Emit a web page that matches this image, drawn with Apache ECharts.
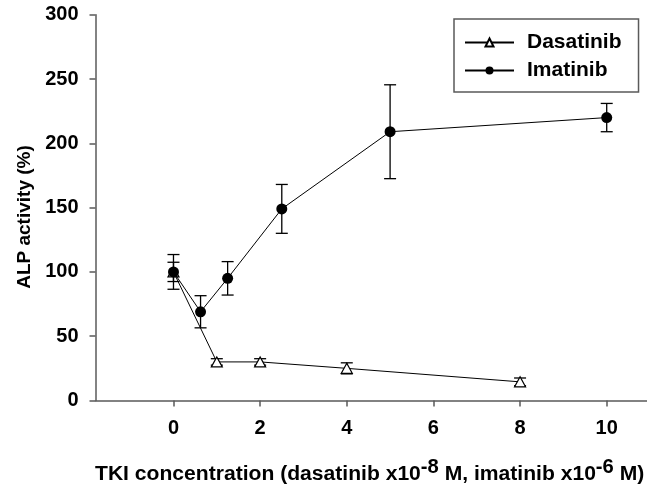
<!DOCTYPE html>
<html>
<head>
<meta charset="utf-8">
<script src="https://cdn.jsdelivr.net/npm/echarts@6/dist/echarts.min.js"></script>
<style>
  html, body { margin: 0; padding: 0; background: #fff; }
  #chart { width: 647px; height: 489px; }
</style>
</head>
<body>
<div id="chart"></div>
<script>
  // concentrations (x) and ALP activity (%) with SD
  var dasaX = [0, 1, 2, 4, 8];
  var dasaY = [100, 30, 30, 25, 14.5];
  var dasaErr = [7.5, 2.5, 2.5, 4.3, 3];

  var imatX = [0, 0.625, 1.25, 2.5, 5, 10];
  var imatY = [100, 69, 95, 149, 209, 220];
  var imatErr = [13.5, 12.5, 13, 19, 36.5, 11];

  var xTicks = [0, 2, 4, 6, 8, 10];
  var AXIS = '#5a5a5a';
  var FONT = "'Liberation Sans', Arial, sans-serif";

  function zip(xs, ys) {
    return xs.map(function (x, i) { return [x, ys[i]]; });
  }

  function errData(xs, ys, es) {
    return xs.map(function (x, i) { return [x, ys[i] - es[i], ys[i] + es[i]]; });
  }

  function renderErr(params, api) {
    var lo = api.coord([api.value(0), api.value(1)]);
    var hi = api.coord([api.value(0), api.value(2)]);
    var cap = 6;
    var st = { stroke: '#000', lineWidth: 1.3 };
    return {
      type: 'group',
      children: [
        { type: 'line', shape: { x1: lo[0], y1: lo[1], x2: hi[0], y2: hi[1] }, style: st },
        { type: 'line', shape: { x1: lo[0] - cap, y1: lo[1], x2: lo[0] + cap, y2: lo[1] }, style: st },
        { type: 'line', shape: { x1: hi[0] - cap, y1: hi[1], x2: hi[0] + cap, y2: hi[1] }, style: st }
      ]
    };
  }

  var chart = echarts.init(document.getElementById('chart'), null, { renderer: 'canvas' });

  chart.setOption({
    backgroundColor: '#fff',
    animation: false,
    grid: { left: 95.5, top: 14.7, right: 0, bottom: 88.5, containLabel: false },
    legend: {
      left: 454,
      top: 19,
      orient: 'vertical',
      padding: [13, 17, 11, 10],
      itemGap: 7,
      itemWidth: 49,
      itemHeight: 10,
      borderColor: AXIS,
      borderWidth: 1.5,
      borderRadius: 0,
      textStyle: {
        fontFamily: FONT, fontWeight: 'bold', fontSize: 21, color: '#000',
        lineHeight: 21, padding: [0, 0, 0, 8]
      },
      data: ['Dasatinib', 'Imatinib']
    },
    xAxis: {
      type: 'value',
      min: -1.8,
      max: 10.93,
      axisLine: { show: true, onZero: false, lineStyle: { color: AXIS, width: 1.5 } },
      axisTick: { show: true, inside: false, length: 6, customValues: xTicks, lineStyle: { color: AXIS, width: 1.5 } },
      axisLabel: {
        customValues: xTicks, margin: 18,
        fontFamily: FONT, fontWeight: 'bold', fontSize: 20, color: '#000'
      },
      splitLine: { show: false }
    },
    yAxis: {
      type: 'value',
      min: 0,
      max: 300,
      interval: 50,
      axisLine: { show: true, onZero: false, lineStyle: { color: AXIS, width: 1.5 } },
      axisTick: { show: true, inside: false, length: 6, lineStyle: { color: AXIS, width: 1.5 } },
      axisLabel: {
        margin: 17,
        fontFamily: FONT, fontWeight: 'bold', fontSize: 20, color: '#000'
      },
      splitLine: { show: false }
    },
    graphic: [
      {
        type: 'text',
        x: 25, y: 217,
        rotation: Math.PI / 2,
        style: {
          text: 'ALP activity (%)',
          fontFamily: FONT, fontWeight: 'bold', fontSize: 19, fill: '#000',
          textAlign: 'center', textVerticalAlign: 'middle'
        }
      },
      {
        type: 'text',
        x: 95, y: 474,
        style: {
          text: '{m|TKI concentration (dasatinib x10}{s|-8}{m| M, imatinib x10}{s|-6}{m| M)}',
          textAlign: 'left', textVerticalAlign: 'middle',
          rich: {
            m: { fontFamily: FONT, fontWeight: 'bold', fontSize: 21.1, fill: '#000', color: '#000' },
            s: { fontFamily: FONT, fontWeight: 'bold', fontSize: 20.2, fill: '#000', color: '#000', padding: [0, 0, 14, 0] }
          }
        }
      }
    ],
    series: [
      {
        name: 'Dasatinib',
        type: 'line',
        data: zip(dasaX, dasaY),
        symbol: 'triangle',
        symbolSize: [11, 10],
        lineStyle: { color: '#000', width: 1 },
        itemStyle: { color: '#fff', borderColor: '#000', borderWidth: 1.2 },
        z: 3
      },
      {
        name: 'DasatinibErr',
        type: 'custom',
        renderItem: renderErr,
        data: errData(dasaX, dasaY, dasaErr),
        encode: { x: 0, y: [1, 2] },
        z: 2
      },
      {
        name: 'Imatinib',
        type: 'line',
        data: zip(imatX, imatY),
        symbol: 'circle',
        symbolSize: 11,
        lineStyle: { color: '#000', width: 1 },
        itemStyle: { color: '#000', borderColor: '#000', borderWidth: 0 },
        z: 5
      },
      {
        name: 'ImatinibErr',
        type: 'custom',
        renderItem: renderErr,
        data: errData(imatX, imatY, imatErr),
        encode: { x: 0, y: [1, 2] },
        z: 4
      }
    ]
  });
</script>
</body>
</html>
